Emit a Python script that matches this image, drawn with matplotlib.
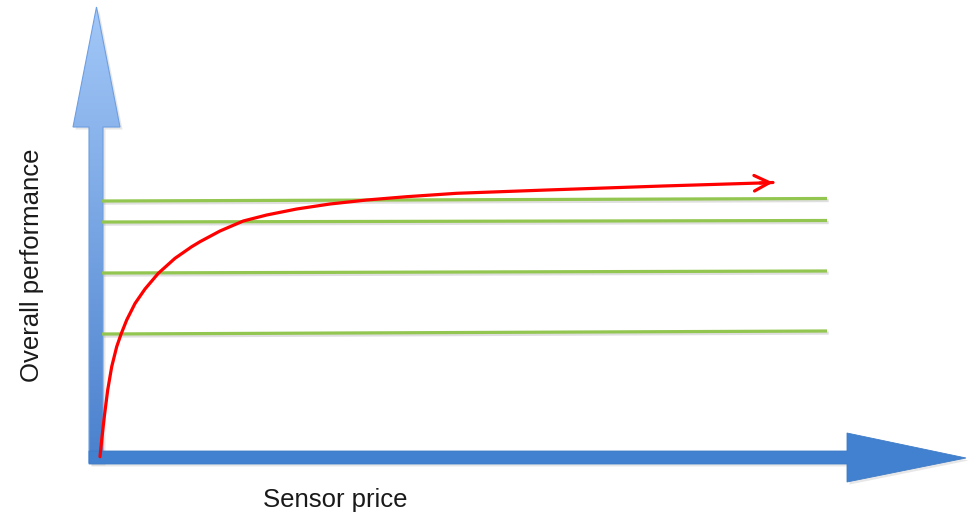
import numpy as np
import matplotlib
matplotlib.use("Agg")
import matplotlib.pyplot as plt
from matplotlib.patches import Polygon, FancyArrowPatch
from matplotlib.colors import LinearSegmentedColormap
import matplotlib.patheffects as pe

# Red curve: overall performance rising with sensor price, flattening out
price = [4, 5.7, 8.3, 11.7, 15.7, 20.7, 25, 30.7, 39, 49, 62.3, 79, 95.7, 104,
         124, 147.3, 170.7, 200.7, 234, 270.7, 310.7, 360.7, 451, 567, 664, 677]
performance = [1.3, 18, 41.3, 68, 91.3, 111.3, 123.7, 138, 154.5, 169, 184.7,
               199.7, 211.3, 216.3, 227, 237, 243, 249, 254, 258, 261.3, 264.7,
               268, 272, 275, 275.5]

# Green reference levels (value at left end, value at right end)
level_start = [257, 236, 185, 124]
level_end = [259.5, 237.5, 187, 127]
level_span = [6, 731]

x_label = "Sensor price"
y_label = "Overall performance"

fig = plt.figure(figsize=(9.7, 5.15), dpi=100)
ax = fig.add_axes([0, 0, 1, 1])
ax.set_xlim(-96, 874)
ax.set_ylim(-57, 458)
ax.axis("off")

# --- axis arrows -----------------------------------------------------------
v_arrow = [(-7, -5), (7, -5), (7, 331), (24, 331), (0.5, 451), (-23, 331),
           (-7, 331)]
h_arrow = [(-7, 7), (751, 7), (751, 25), (870, 0), (751, -24), (751, -6),
           (-7, -6)]

def shadow(poly, dx=2.5, dy=-2.5, alpha=0.18):
    pts = [(x + dx, y + dy) for x, y in poly]
    ax.add_patch(Polygon(pts, closed=True, facecolor="#7f7f7f",
                         edgecolor="none", alpha=alpha, zorder=1))

shadow(v_arrow)
shadow(h_arrow)

# vertical arrow with a light-to-dark blue gradient
grad_cmap = LinearSegmentedColormap.from_list("vgrad", ["#4a80cd", "#a3c8f8"])
clip = Polygon(v_arrow, closed=True, facecolor="none", edgecolor="#6e9fe2",
               lw=0.8, zorder=3)
ax.add_patch(clip)
grad = np.linspace(0, 1, 256).reshape(-1, 1)
img = ax.imshow(grad, cmap=grad_cmap, origin="lower", aspect="auto",
                extent=(-24, 25, -5, 451), zorder=2, interpolation="bilinear")
img.set_clip_path(clip)
ax.set_xlim(-96, 874)
ax.set_ylim(-57, 458)

ax.add_patch(Polygon(h_arrow, closed=True, facecolor="#4281cf",
                     edgecolor="#3f7cc8", lw=0.6, zorder=4))

# --- green levels ------------------------------------------------------------
for a, b in zip(level_start, level_end):
    ax.plot(level_span, [a, b], color="#92c650", lw=2.3, solid_capstyle="butt",
            zorder=5,
            path_effects=[pe.SimpleLineShadow(offset=(1.2, -1.5),
                                              shadow_color="gray", alpha=0.25),
                          pe.Normal()])

# --- red curve ---------------------------------------------------------------
ax.plot(price, performance, color="#ff0000", lw=2.3, zorder=6,
        solid_capstyle="round", solid_joinstyle="round")
head = FancyArrowPatch((price[-2], performance[-2]), (price[-1], performance[-1]),
                       arrowstyle="->,head_length=0.55,head_width=0.28",
                       mutation_scale=20, color="#ff0000", lw=2.3,
                       shrinkA=0, shrinkB=0, zorder=6)
ax.add_patch(head)

# --- labels ----------------------------------------------------------------
font = dict(family=["Liberation Sans", "DejaVu Sans"], size=18.5,
            color="#1a1a1a")
fig.text(335 / 970, 1 - 500 / 515, x_label, ha="center", va="center", **font)
fig.text(32 / 970, 1 - 265 / 515, y_label, ha="center", va="center",
         rotation=90, **font)

fig.savefig("out.png", dpi=100, facecolor="white")
